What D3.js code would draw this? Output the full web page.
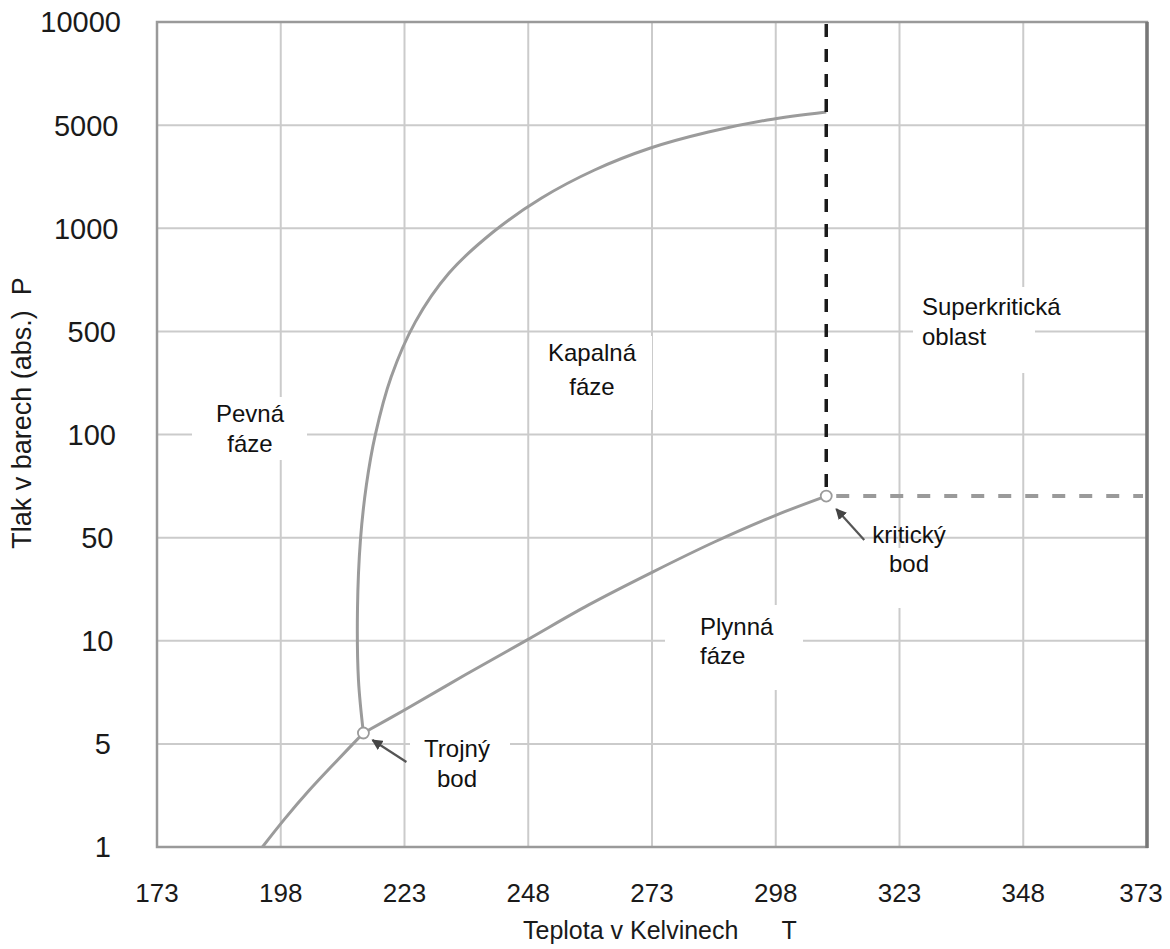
<!DOCTYPE html>
<html>
<head>
<meta charset="utf-8">
<script src="https://cdn.jsdelivr.net/npm/d3@7"></script>
<style>
  body { margin: 0; background: #fff; }
</style>
</head>
<body>
<div id="container"></div>
<script>
// axis ticks
const tempTicks = [173, 198, 223, 248, 273, 298, 323, 348, 373];
const pressTicks = [1, 5, 10, 50, 100, 500, 1000, 5000, 10000];

// phase boundaries (T in K, P in bar)
const sublimT = [194.3, 198.8, 203.8, 209.3, 214.7];
const sublimP = [1, 1.55, 2.43, 3.83, 5.38];

const meltT = [214.7, 213.7, 213.5, 214.1, 215.3, 217.1, 220.3, 225.2, 232.0, 240.9, 250.7, 261.4, 272.7, 284.4, 296.3, 308.2];
const meltP = [5.38, 7.68, 16.2, 48.2, 71.2, 99.7, 245, 533, 740, 975, 1603, 2482, 3499, 4491, 5175, 5461];

const vapT = [214.7, 223.0, 235.2, 247.7, 260.2, 273.1, 285.6, 298.1, 308.2];
const vapP = [5.38, 6.28, 7.94, 10.1, 17.5, 29.2, 46.7, 58.2, 66.1];

const triplePoint = [214.7, 5.38];
const criticalPoint = [308.2, 66.1];

const xTitle = ['Teplota v Kelvinech', 'T'];
const yTitle = 'Tlak v barech (abs.)  P';

const margin = {top: 22, left: 157};
const width = 990, height = 825;
const font = "'Liberation Sans', Arial, sans-serif";

let svg = d3.select('#container')
    .append('svg')
    .attr('width', 1170)
    .attr('height', 949)
    .style('display', 'block')
    .style('background', '#fff');

let x = d3.scaleLinear().domain([173, 373]).range([0, width]);

// every labelled pressure sits on an evenly spaced grid line
let yLin = d3.scaleLinear()
    .domain(pressTicks.map(Math.log10))
    .range(pressTicks.map((d, i) => height - i * height / (pressTicks.length - 1)));
const y = p => yLin(Math.log10(p));

let plot = svg.append('g')
    .attr('transform', `translate(${margin.left},${margin.top})`);

// grid
plot.selectAll('.vgrid').data(tempTicks.slice(1, -1))
    .enter().append('line')
    .attr('x1', d => x(d)).attr('x2', d => x(d))
    .attr('y1', 0).attr('y2', height)
    .attr('stroke', '#cbcbcb').attr('stroke-width', 2);

plot.selectAll('.hgrid').data(pressTicks.slice(1, -1))
    .enter().append('line')
    .attr('x1', 0).attr('x2', width)
    .attr('y1', d => y(d)).attr('y2', d => y(d))
    .attr('stroke', '#cbcbcb').attr('stroke-width', 2);

// white patches behind the region labels
const patches = [
    [35, 375, 115, 63],    // Pevna
    [388, 314, 107, 74],   // Kapalna
    [756, 265, 122, 86],   // Superkriticka
    [508, 583, 138, 85],   // Plynna
    [713, 526, 80, 60],    // kriticky bod
    [253, 713, 100, 60]    // Trojny bod
];
plot.selectAll('.patch').data(patches)
    .enter().append('rect')
    .attr('x', d => d[0]).attr('y', d => d[1])
    .attr('width', d => d[2]).attr('height', d => d[3])
    .attr('fill', '#fff');

// frame
plot.append('rect')
    .attr('width', width).attr('height', height)
    .attr('fill', 'none').attr('stroke', '#9a9a9a').attr('stroke-width', 2.5);
plot.append('line')
    .attr('x1', width).attr('x2', width).attr('y1', 0).attr('y2', height + 1)
    .attr('stroke', '#777').attr('stroke-width', 3.5);

// phase boundaries
let line = d3.line()
    .x(d => x(d[0]))
    .y(d => y(d[1]))
    .curve(d3.curveCatmullRom.alpha(0.5));

[[sublimT, sublimP], [meltT, meltP], [vapT, vapP]].forEach(([ts, ps]) => {
    plot.append('path')
        .datum(ts.map((t, i) => [t, ps[i]]))
        .attr('d', line)
        .attr('fill', 'none')
        .attr('stroke', '#9b9b9b')
        .attr('stroke-width', 3)
        .attr('stroke-linejoin', 'round');
});

// critical isotherm / isobar
plot.append('line')
    .attr('x1', x(criticalPoint[0])).attr('x2', x(criticalPoint[0]))
    .attr('y1', 2).attr('y2', y(criticalPoint[1]) - 7)
    .attr('stroke', '#1a1a1a').attr('stroke-width', 3.5)
    .attr('stroke-dasharray', '13,12');

plot.append('line')
    .attr('x1', x(criticalPoint[0]) + 10).attr('x2', width - 4)
    .attr('y1', y(criticalPoint[1])).attr('y2', y(criticalPoint[1]))
    .attr('stroke', '#9a9a9a').attr('stroke-width', 4)
    .attr('stroke-dasharray', '13,14');

// points
plot.selectAll('.pt').data([triplePoint, criticalPoint])
    .enter().append('circle')
    .attr('cx', d => x(d[0])).attr('cy', d => y(d[1]))
    .attr('r', 5.5)
    .attr('fill', '#fff').attr('stroke', '#9b9b9b').attr('stroke-width', 1.8);

// arrows
svg.append('defs').append('marker')
    .attr('id', 'head')
    .attr('viewBox', '0 0 10 10')
    .attr('refX', 9).attr('refY', 5)
    .attr('markerWidth', 5).attr('markerHeight', 5)
    .attr('orient', 'auto')
    .append('path').attr('d', 'M0,0L10,5L0,10z').attr('fill', '#444');

const arrowOff = [[38, 44, 10, 13], [43, 29, 9, 7]];
[criticalPoint, triplePoint].forEach((p, i) => {
    let [dx1, dy1, dx2, dy2] = arrowOff[i];
    plot.append('line')
        .attr('x1', x(p[0]) + dx1).attr('y1', y(p[1]) + dy1)
        .attr('x2', x(p[0]) + dx2).attr('y2', y(p[1]) + dy2)
        .attr('stroke', '#555').attr('stroke-width', 2.2)
        .attr('marker-end', 'url(#head)');
});

// region labels
const labelTexts = [
    ['Pevná', 'fáze'],
    ['Kapalná', 'fáze'],
    ['Superkritická', 'oblast'],
    ['Plynná', 'fáze'],
    ['kritický', 'bod'],
    ['Trojný', 'bod']
];
const labelPos = [
    [93, 400, 'middle', 30],
    [435, 339, 'middle', 34],
    [765, 293, 'start', 30],
    [543, 613, 'start', 29],
    [752, 521, 'middle', 29],
    [300, 735, 'middle', 30]
];

labelTexts.forEach((lines, i) => {
    let [lx, ly, anchor, lh] = labelPos[i];
    let t = plot.append('text')
        .attr('x', lx).attr('y', ly)
        .attr('text-anchor', anchor)
        .attr('font-family', font)
        .attr('font-size', 24)
        .attr('fill', '#111');
    lines.forEach((s, j) => {
        t.append('tspan').attr('x', lx).attr('dy', j ? lh : 0).text(s);
    });
});

// tick labels
plot.selectAll('.ylab').data(pressTicks)
    .enter().append('text')
    .attr('x', d => -36 - (5 - String(d).length) * 2.5)
    .attr('y', d => y(d))
    .attr('dy', '0.36em')
    .attr('text-anchor', 'end')
    .attr('font-family', font)
    .attr('font-size', 29)
    .attr('fill', '#1a1a1a')
    .text(d => d);

plot.selectAll('.xlab').data(tempTicks)
    .enter().append('text')
    .attr('x', d => Math.min(x(d), width - 6))
    .attr('y', height + 46)
    .attr('dy', '0.36em')
    .attr('text-anchor', 'middle')
    .attr('font-family', font)
    .attr('font-size', 26)
    .attr('fill', '#1a1a1a')
    .text(d => d);

// axis titles
let xt = svg.append('text')
    .attr('x', 523)
    .attr('y', 939)
    .attr('font-family', font)
    .attr('font-size', 25)
    .attr('fill', '#1a1a1a');
xt.append('tspan').text(xTitle[0]);
xt.append('tspan').attr('dx', 43).text(xTitle[1]);

svg.append('text')
    .attr('transform', 'translate(31,413) rotate(-90)')
    .attr('text-anchor', 'middle')
    .attr('font-family', font)
    .attr('font-size', 27)
    .attr('fill', '#1a1a1a')
    .style('white-space', 'pre')
    .text(yTitle);
</script>
</body>
</html>
